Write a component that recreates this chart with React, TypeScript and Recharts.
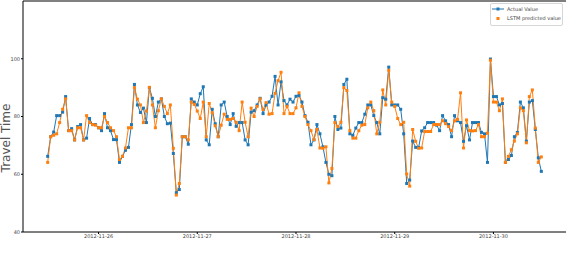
import React from 'react';
import { LineChart, Line, XAxis, YAxis, Legend, ReferenceLine } from 'recharts';

const actual: number[] = [
  66.2, 73.0, 74.6, 80.3, 80.3, 81.5, 86.9, 75.1, 75.8, 71.9, 76.5, 77.2, 71.9, 72.5, 79.3, 77.2, 77.2, 76.1, 75.1, 81.0,
  76.1, 75.1, 72.0, 72.0, 64.1, 66.2, 68.3, 69.3, 77.2, 91.1, 84.0, 81.4, 82.9, 77.9, 90.0, 86.3, 80.0, 85.0, 86.1, 80.0,
  77.5, 77.7, 67.2, 53.6, 54.7, 73.0, 73.0, 70.4, 86.1, 85.0, 84.0, 87.9, 90.3, 71.9, 70.2, 82.5, 77.5, 73.0, 84.0, 85.0,
  80.0, 77.2, 81.0, 76.6, 77.9, 77.9, 71.9, 70.2, 81.5, 82.0, 84.0, 86.3, 81.0, 84.0, 85.0, 87.0, 93.9, 84.0, 92.0, 85.5,
  84.0, 86.0, 85.0, 87.0, 87.3, 85.0, 80.3, 78.0, 70.2, 71.9, 77.2, 74.0, 69.5, 64.1, 60.0, 59.5, 80.0, 75.5, 76.0, 91.1,
  92.9, 74.0, 73.5, 76.0, 77.9, 77.9, 80.8, 84.0, 84.0, 80.3, 77.9, 74.0, 86.5, 86.0, 97.1, 84.0, 84.0, 84.0, 82.5, 74.0,
  56.8, 58.0, 71.5, 69.3, 69.3, 75.0, 76.1, 77.9, 77.9, 77.9, 77.0, 75.1, 80.3, 78.5, 77.2, 73.0, 80.3, 78.5, 77.9, 71.4,
  76.8, 71.9, 77.9, 77.9, 77.9, 74.5, 74.0, 64.1, 99.9, 86.9, 86.9, 84.0, 84.5, 64.1, 65.1, 66.5, 73.0, 74.5, 85.0, 83.0,
  71.5, 85.0, 85.5, 75.5, 65.7, 61.0,
];

const predicted: number[] = [
  64.1, 73.0, 73.5, 74.0, 77.9, 82.5, 86.1, 75.1, 75.1, 71.9, 76.1, 76.1, 71.9, 80.3, 77.9, 77.2, 77.0, 76.1, 76.1, 80.0,
  77.9, 76.1, 75.1, 73.0, 65.1, 66.2, 69.1, 76.1, 76.1, 90.0, 86.0, 84.0, 77.9, 81.9, 90.1, 84.0, 76.1, 82.0, 86.1, 83.5,
  81.0, 84.0, 69.0, 52.8, 56.8, 73.0, 73.0, 71.9, 85.0, 84.2, 81.9, 79.3, 85.0, 73.0, 84.5, 81.3, 76.8, 73.0, 77.0, 80.8,
  79.0, 79.0, 79.3, 78.0, 75.1, 85.0, 78.0, 73.0, 82.9, 80.0, 83.5, 86.1, 82.4, 84.8, 80.8, 81.0, 88.0, 92.4, 95.3, 81.0,
  83.5, 81.0, 81.0, 83.0, 88.2, 83.5, 80.0, 77.2, 75.1, 72.0, 75.5, 69.1, 69.0, 69.5, 57.0, 62.0, 77.9, 76.5, 78.0, 90.0,
  89.0, 75.1, 72.5, 72.5, 75.1, 77.0, 77.2, 83.0, 85.0, 82.0, 74.0, 78.0, 89.2, 84.0, 96.0, 85.0, 83.5, 79.3, 77.2, 78.0,
  60.1, 55.9, 75.5, 71.4, 69.0, 69.1, 74.8, 74.8, 74.8, 77.2, 77.2, 77.2, 78.5, 77.5, 76.5, 75.1, 78.5, 79.0, 88.2, 69.1,
  78.8, 75.1, 75.0, 75.1, 77.2, 73.0, 73.0, 74.2, 99.5, 85.0, 85.0, 82.0, 86.1, 64.1, 66.2, 68.5, 71.5, 74.0, 83.0, 82.0,
  70.9, 86.9, 89.2, 76.0, 64.1, 66.0,
];

const tickIndex: number[] = [17, 50, 83, 116, 149];
const tickLabels: string[] = ['2012-11-26', '2012-11-27', '2012-11-28', '2012-11-29', '2012-11-30'];
const yTicks: number[] = [40, 60, 80, 100];

const data = actual.map((a, i) => ({ i, actual: a, predicted: predicted[i] }));

const n = actual.length - 1;
const xMin = -0.05 * n;
const xMax = n * 1.05;

const FONT = 'DejaVu Sans, sans-serif';
const BLUE = '#1f77b4';
const ORANGE = '#ff7f0e';

const makeDot = (color: string) => (props: any) => {
  const { cx, cy, index } = props;
  if (cx == null || cy == null) return <g key={`d-${color}-${index}`} />;
  return <rect key={`d-${color}-${index}`} x={cx - 1.5} y={cy - 1.5} width={3} height={3} fill={color} />;
};

const LegendBox = () => (
  <div
    style={{
      width: 73,
      height: 23,
      border: '1px solid #d6d6d6',
      borderRadius: 2,
      background: 'rgba(255,255,255,0.8)',
      fontFamily: FONT,
      fontSize: 5,
      color: '#444',
      boxSizing: 'border-box',
      position: 'relative',
    }}
  >
    <svg width={14} height={20} style={{ position: 'absolute', left: 1, top: 1 }}>
      <line x1={0} y1={4} x2={12} y2={4} stroke={BLUE} strokeWidth={1} />
      <rect x={4.5} y={2.5} width={3} height={3} fill={BLUE} />
      <rect x={4.5} y={12} width={3} height={3} fill={ORANGE} />
    </svg>
    <div style={{ position: 'absolute', left: 16, top: 2, whiteSpace: 'nowrap', lineHeight: '6px' }}>Actual Value</div>
    <div style={{ position: 'absolute', left: 16, top: 11, whiteSpace: 'nowrap', lineHeight: '6px' }}>LSTM predicted value</div>
  </div>
);

export default function App() {
  return (
    <div style={{ position: 'absolute', left: 0, top: 0, width: 566, height: 262, background: '#fff' }}>
      <LineChart width={566} height={262} data={data} margin={{ top: 1, right: 0, bottom: 0, left: 0 }}>
        <XAxis
          dataKey="i"
          type="number"
          domain={[xMin, xMax]}
          ticks={tickIndex}
          tickFormatter={(v: number) => tickLabels[tickIndex.indexOf(v)] ?? ''}
          height={7}
          tickSize={2}
          tickMargin={0}
          allowDataOverflow
          stroke="#000"
          tick={{ fontSize: 5, fill: '#444', fontFamily: FONT }}
        />
        <YAxis
          type="number"
          domain={[40, 120]}
          ticks={yTicks}
          width={23}
          tickSize={2}
          tickMargin={1}
          stroke="#000"
          tick={{ fontSize: 5, fill: '#444', fontFamily: FONT }}
          label={() => (
            <text
              x={6}
              y={138}
              transform="rotate(-90 6 138)"
              textAnchor="middle"
              dominantBaseline="central"
              fontSize={12}
              fontFamily={FONT}
              fill="#555"
            >
              Travel Time
            </text>
          )}
        />
        <ReferenceLine y={120} stroke="#000" strokeWidth={1} />
        <Line
          dataKey="actual"
          stroke={BLUE}
          strokeWidth={1}
          dot={makeDot(BLUE)}
          activeDot={false}
          isAnimationActive={false}
        />
        <Line
          dataKey="predicted"
          stroke={ORANGE}
          strokeWidth={1}
          dot={makeDot(ORANGE)}
          activeDot={false}
          isAnimationActive={false}
        />
        <Legend
          content={() => <LegendBox />}
          wrapperStyle={{ position: 'absolute', left: 490, top: 3, width: 73, height: 23 }}
        />
      </LineChart>
    </div>
  );
}
